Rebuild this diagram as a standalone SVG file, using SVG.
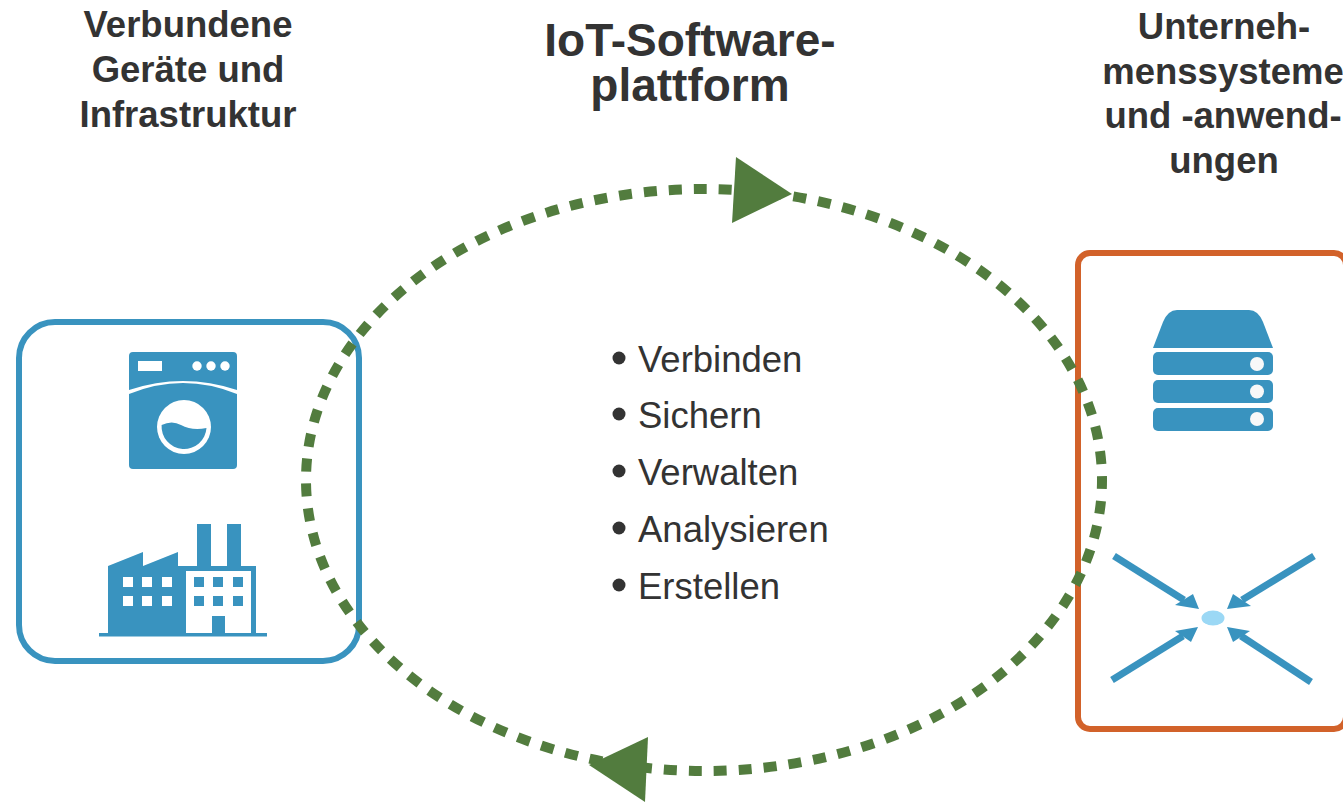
<svg xmlns="http://www.w3.org/2000/svg" width="1343" height="802" viewBox="0 0 1343 802">
<style>
.h{font-family:"Liberation Sans",Arial,sans-serif;font-weight:700;fill:#333;text-anchor:middle;font-size:36.500px}
.t{font-size:46px}
.b{font-family:"Liberation Sans",Arial,sans-serif;font-size:36.500px;fill:#333}
.i{fill:#3993bf}
.w{fill:#fff}
.a{stroke:#3993bf;stroke-width:7;fill:none}
</style>
<rect width="1343" height="802" fill="#fff"/>
<g id="title-left"><text class="h" x="188" y="37">Verbundene</text><text class="h" x="188" y="82">Geräte und</text><text class="h" x="188" y="127">Infrastruktur</text></g>
<g id="title-center"><text class="h t" x="690" y="56">IoT-Software-</text><text class="h t" x="690" y="101">plattform</text></g>
<g id="title-right"><text class="h" x="1224" y="39">Unterneh-</text><text class="h" x="1223" y="84">menssysteme</text><text class="h" x="1223" y="128">und -anwend-</text><text class="h" x="1224" y="173">ungen</text></g>
<g id="devices">
<rect x="19" y="322" width="340" height="339" rx="36" fill="#fff" stroke="#3993bf" stroke-width="6"/>
<g id="washer">
<path class="i" d="M133 352H233a4 4 0 0 1 4 4V390Q183 372 129 390V356a4 4 0 0 1 4-4Z"/>
<path class="i" d="M129 394Q183 372 237 394V465a4 4 0 0 1-4 4H133a4 4 0 0 1-4-4Z"/>
<rect class="w" x="138" y="361" width="24" height="10"/>
<circle class="w" cx="197" cy="366" r="4.700"/><circle class="w" cx="211" cy="366" r="4.700"/><circle class="w" cx="225" cy="366" r="4.700"/>
<circle class="w" cx="184" cy="427" r="27"/>
<path class="i" d="M161.600 425Q172 420 181 425Q192 431 206.500 428A22.500 22.500 0 1 1 161.600 425Z"/>
</g>
<g id="factory">
<path class="i" d="M108 566L143 552V566L178 552V566H197V524H211V566H227V524H241V566H256V634H108Z"/>
<rect class="w" x="186" y="571" width="65" height="63"/>
<rect class="i" x="99" y="633" width="168" height="3.500"/>
<path class="i" d="M212 616H225V634H212Z"/>
<g class="w"><rect x="123" y="577" width="10" height="10"/><rect x="142" y="577" width="10" height="10"/><rect x="162" y="577" width="10" height="10"/><rect x="123" y="596" width="10" height="10"/><rect x="142" y="596" width="10" height="10"/><rect x="162" y="596" width="10" height="10"/></g>
<g class="i"><rect x="194" y="577" width="10" height="10"/><rect x="213" y="577" width="10" height="10"/><rect x="233" y="577" width="10" height="10"/><rect x="194" y="596" width="10" height="10"/><rect x="213" y="596" width="10" height="10"/><rect x="233" y="596" width="10" height="10"/></g>
</g>
</g>
<g id="enterprise">
<rect x="1078" y="253" width="268" height="476" rx="12" fill="#fff" stroke="#d2622a" stroke-width="6"/>
<g id="server">
<path class="i" d="M1153 348L1163 322Q1168 310 1177 310H1249Q1258 310 1263 322L1273 348Z"/>
<rect class="i" x="1153" y="352" width="120" height="23" rx="5"/><rect class="i" x="1153" y="380" width="120" height="23" rx="5"/><rect class="i" x="1153" y="408" width="120" height="23" rx="5"/>
<circle cx="1257" cy="364" r="7" fill="#f8f8f8"/><circle cx="1257" cy="391.500" r="7" fill="#f8f8f8"/><circle cx="1257" cy="419" r="7" fill="#f8f8f8"/>
</g>
<g id="integration">
<path class="a" d="M1114 556L1184 600"/><path class="i" d="M1199 609L1175 605L1193 594Z"/>
<path class="a" d="M1314 556L1242 600"/><path class="i" d="M1227 609L1233 594L1251 606Z"/>
<path class="a" d="M1112 680L1183 636"/><path class="i" d="M1198 627L1175 631L1191 642Z"/>
<path class="a" d="M1311 682L1241 636"/><path class="i" d="M1227 627L1250 631L1233 642Z"/>
<ellipse cx="1213" cy="618" rx="11.500" ry="7.500" fill="#9bd8f5"/>
</g>
</g>
<g id="connectors">
<ellipse cx="704" cy="480" rx="398" ry="291" pathLength="2175" fill="none" stroke="#527c3e" stroke-width="10" stroke-dasharray="13 12" stroke-dashoffset="4"/>
<path fill="#527c3e" d="M736 157L792 194L732 223Z"/>
<path fill="#527c3e" d="M589 765L648 737L645 802Z"/>
</g>
<g id="bullets">
<circle cx="619" cy="358" r="6.500" fill="#333"/><text class="b" x="638" y="372">Verbinden</text>
<circle cx="619" cy="414" r="6.500" fill="#333"/><text class="b" x="638" y="428">Sichern</text>
<circle cx="619" cy="471" r="6.500" fill="#333"/><text class="b" x="638" y="485">Verwalten</text>
<circle cx="619" cy="528" r="6.500" fill="#333"/><text class="b" x="638" y="542">Analysieren</text>
<circle cx="619" cy="585" r="6.500" fill="#333"/><text class="b" x="638" y="599">Erstellen</text>
</g>
</svg>
